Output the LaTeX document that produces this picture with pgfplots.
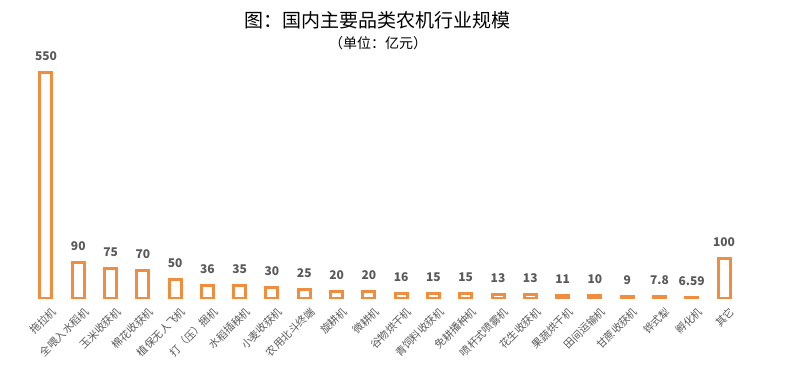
\documentclass[border=0pt]{standalone}
\usepackage{pgfplots}
\pgfplotsset{compat=1.18}
\usepackage{fontspec}
\setmainfont{Noto Sans CJK SC}
\definecolor{barorange}{RGB}{241,141,62}
\definecolor{lblgray}{RGB}{89,89,89}
\begin{document}
\begin{tikzpicture}
\useasboundingbox (0,0) rectangle (800bp,373bp);
\node[font=\fontsize{19bp}{22bp}\selectfont, text=black] at (377bp,353bp) {图：国内主要品类农机行业规模};
\node[font=\fontsize{14bp}{16bp}\selectfont, text=black] at (378bp,330bp) {（单位：亿元）};
\begin{axis}[
  at={(13.7bp,74.7bp)}, anchor=south west,
  scale only axis, width=742.6bp, height=246.7bp,
  xmin=-1, xmax=22, ymin=4, ymax=600,
  axis line style={draw=none}, tick style={draw=none},
  ytick=\empty, xtick=data,
  xticklabels={拖拉机,全喂入水稻机,玉米收获机,棉花收获机,植保无人飞机,打（压）捆机,水稻插秧机,小麦收获机,农用北斗终端,旋耕机,微耕机,谷物烘干机,青饲料收获机,免耕播种机,喷杆式喷雾机,花生收获机,果蔬烘干机,田间运输机,甘蔗收获机,铧式犁,孵化机,其它},
  xticklabel style={rotate=45, anchor=north east, font=\fontsize{10.5bp}{12bp}\selectfont, text=lblgray, inner sep=1bp, yshift=-5bp, xshift=2bp},
  ybar, bar width=12bp, bar shift=0pt,
  clip mode=individual,
  nodes near coords, point meta=explicit symbolic,
  every node near coord/.append style={font=\bfseries\fontsize{12bp}{14bp}\selectfont, text=lblgray, yshift=7bp},
]
\addplot[draw=barorange, line width=3bp, fill=none] table[meta=lab] {
x y lab
0 550 550
1 90 90
2 75 75
3 70 70
4 50 50
5 36 36
6 35 35
7 30 30
8 25 25
9 20 20
10 20 20
11 16 16
12 15 15
13 15 15
14 13 13
15 13 13
16 11 11
17 10 10
18 9 9
19 7.8 7.8
20 6.59 6.59
21 100 100
};
\end{axis}
\end{tikzpicture}
\end{document}
